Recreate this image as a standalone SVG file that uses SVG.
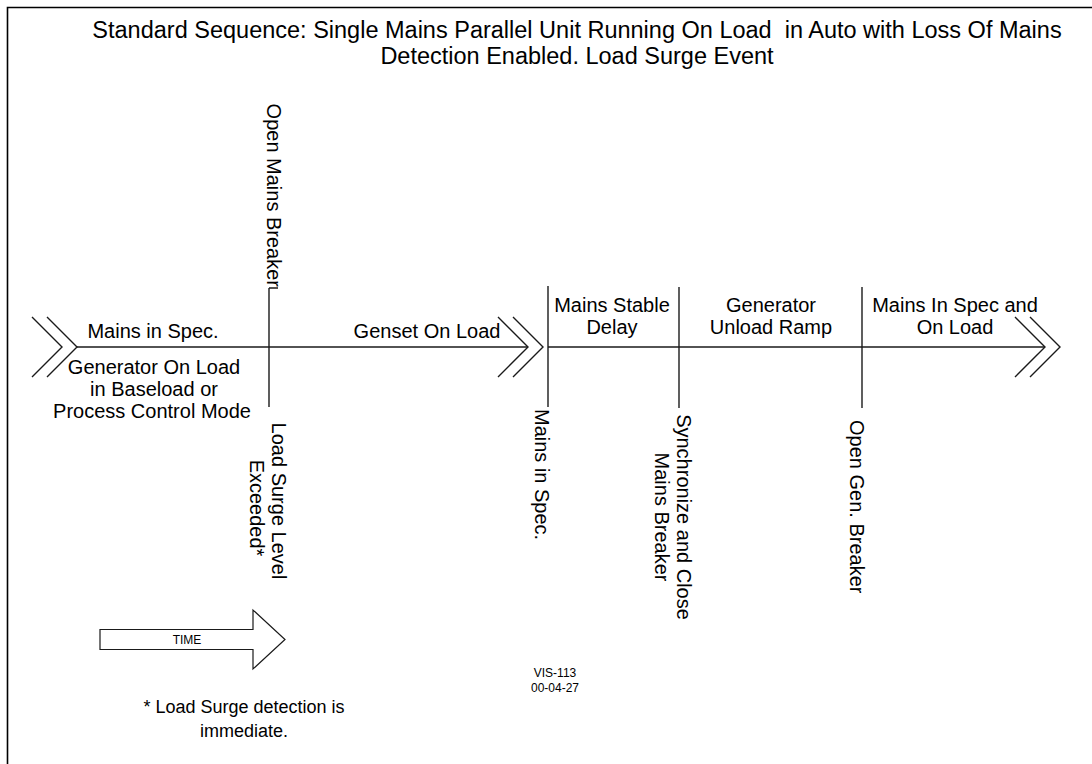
<svg xmlns="http://www.w3.org/2000/svg" width="1092" height="764" viewBox="0 0 1092 764">
<style>
.ln{stroke:#1a1a1a;stroke-width:1.4;fill:none}
.t{font-family:"Liberation Sans",Arial,sans-serif;font-size:20px;fill:#000}
.tm{text-anchor:middle}
.title{font-family:"Liberation Sans",Arial,sans-serif;font-size:23.5px;fill:#000;text-anchor:middle;white-space:pre}
.sm{font-family:"Liberation Sans",Arial,sans-serif;font-size:12px;fill:#000;text-anchor:middle}
.fn{font-family:"Liberation Sans",Arial,sans-serif;font-size:18px;fill:#000;text-anchor:middle}
</style>
<rect width="1092" height="764" fill="#fff"/>
<g id="frame"><path d="M7.5,764 V7.5 H1092" stroke="#000" stroke-width="1.6" fill="none"/></g>
<g id="title">
<text class="title" x="577" y="38" xml:space="preserve">Standard Sequence: Single Mains Parallel Unit Running On Load  in Auto with Loss Of Mains</text>
<text class="title" x="577" y="64">Detection Enabled. Load Surge Event</text>
</g>
<g id="connectors">
<path class="ln" d="M32,317 L62,347 L32,377 M47,317 L77,347 L47,377"/>
<path class="ln" d="M77,347 H528"/>
<path class="ln" d="M498,317 L528,347 L498,377 M513,317 L543,347 L513,377"/>
<path class="ln" d="M548,347 H1045"/>
<path class="ln" d="M1015,317 L1045,347 L1015,377 M1030,317 L1060,347 L1030,377"/>
<path class="ln" d="M269,288 V407 M269,288 H278"/>
<path class="ln" d="M548,286 V407"/>
<path class="ln" d="M679,287 V408"/>
<path class="ln" d="M862,287 V408"/>
</g>
<g id="phase-mains-in-spec">
<text class="t tm" x="153" y="338">Mains in Spec.</text>
<text class="t tm" x="154" y="374">Generator On Load</text>
<text class="t tm" x="154" y="396">in Baseload or</text>
<text class="t tm" x="152" y="418">Process Control Mode</text>
</g>
<g id="phase-genset-on-load"><text class="t tm" x="427" y="338">Genset On Load</text></g>
<g id="phase-mains-stable"><text class="t tm" x="612" y="312">Mains Stable</text><text class="t tm" x="612" y="334">Delay</text></g>
<g id="phase-unload"><text class="t tm" x="771" y="312">Generator</text><text class="t tm" x="771" y="334">Unload Ramp</text></g>
<g id="phase-mains-on-load"><text class="t tm" x="955" y="312">Mains In Spec and</text><text class="t tm" x="955" y="334">On Load</text></g>
<g id="event-open-mains"><text class="t" transform="translate(267,287) rotate(90)" text-anchor="end">Open Mains Breaker</text></g>
<g id="event-load-surge">
<text class="t tm" transform="translate(272,501) rotate(90)">Load Surge Level</text>
<text class="t tm" transform="translate(250,508) rotate(90)">Exceeded*</text>
</g>
<g id="event-mains-in-spec"><text class="t" transform="translate(535,409) rotate(90)">Mains in Spec.</text></g>
<g id="event-sync">
<text class="t tm" transform="translate(677,517) rotate(90)">Synchronize and Close</text>
<text class="t tm" transform="translate(655,517) rotate(90)">Mains Breaker</text>
</g>
<g id="event-open-gen"><text class="t" transform="translate(850,420) rotate(90)">Open Gen. Breaker</text></g>
<g id="time-arrow">
<path d="M100,629.5 H253 V610 L285,639.5 L253,669 V649.5 H100 Z" fill="#fff" stroke="#1a1a1a" stroke-width="1.2"/>
<text class="sm" x="187" y="644">TIME</text>
</g>
<g id="footnote">
<text class="fn" x="244" y="713">* Load Surge detection is</text>
<text class="fn" x="244" y="737">immediate.</text>
</g>
<g id="ref"><text class="sm" x="555" y="677">VIS-113</text><text class="sm" x="555" y="692">00-04-27</text></g>
</svg>
